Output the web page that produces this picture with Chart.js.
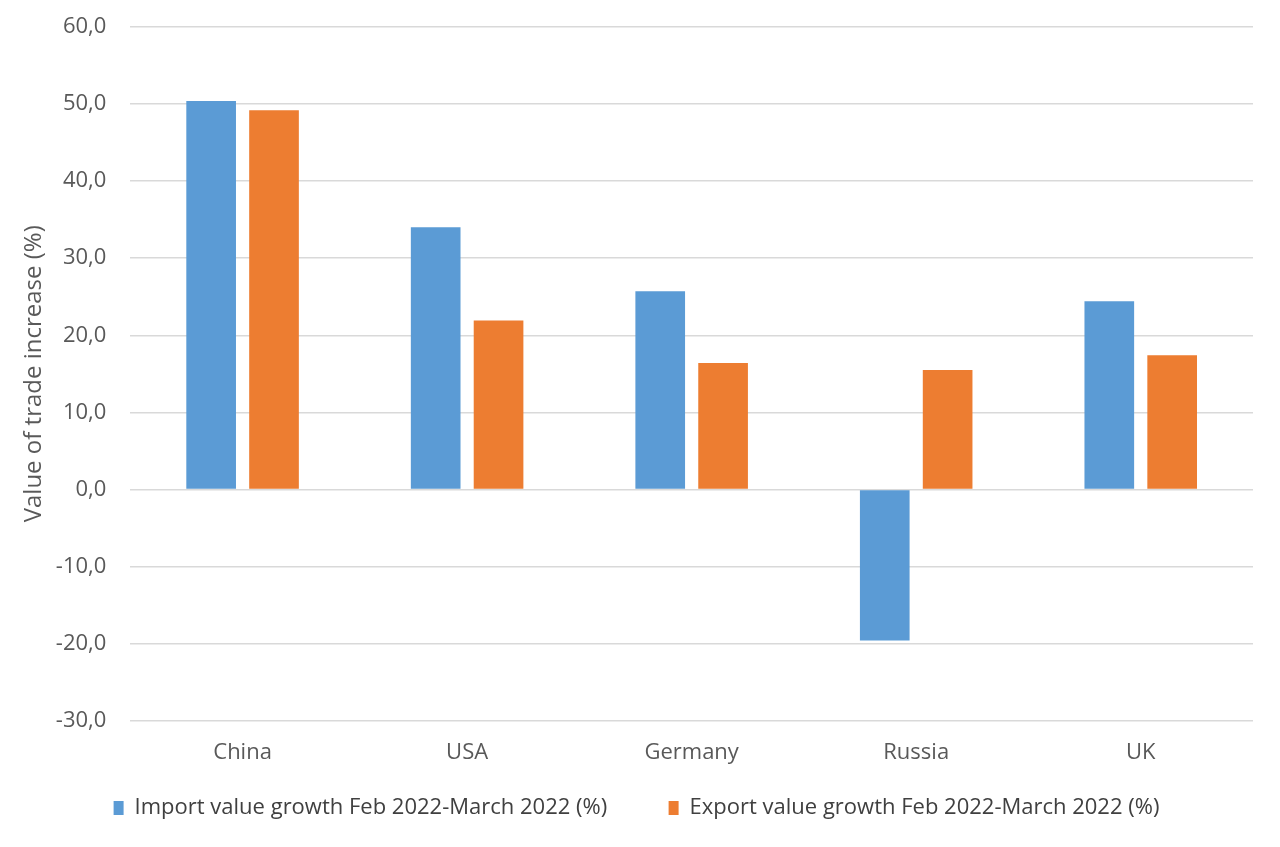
<!DOCTYPE html>
<html>
<head>
<meta charset="utf-8">
<script src="https://cdn.jsdelivr.net/npm/chart.js@4/dist/chart.umd.min.js"></script>
<style>
  html, body { margin: 0; padding: 0; background: #fff; }
  #wrap { width: 1280px; height: 847px; }
</style>
</head>
<body>
<div id="wrap"><canvas id="myChart"></canvas></div>
<script>
var countries = ['China', 'USA', 'Germany', 'Russia', 'UK'];
var importGrowth = [50.4, 34.0, 25.7, -19.6, 24.4];
var exportGrowth = [49.2, 21.9, 16.4, 15.5, 17.4];
var colors = ['#5b9bd5', '#ed7d31'];

Chart.defaults.font.family = '"Open Sans", "Noto Sans", sans-serif';
Chart.defaults.color = '#595959';

var ctx = document.getElementById('myChart').getContext('2d');
var myChart = new Chart(ctx, {
  type: 'bar',
  data: {
    labels: countries,
    datasets: [
      {
        label: 'Import value growth Feb 2022-March 2022 (%)',
        data: importGrowth,
        backgroundColor: colors[0]
      },
      {
        label: 'Export value growth Feb 2022-March 2022 (%)',
        data: exportGrowth,
        backgroundColor: colors[1]
      }
    ]
  },
  options: {
    responsive: true,
    maintainAspectRatio: false,
    animation: false,
    categoryPercentage: 0.56,
    barPercentage: 0.79,
    layout: { padding: { top: 0, right: 27, bottom: 18, left: 20 } },
    plugins: {
      tooltip: { enabled: false },
      legend: {
        position: 'bottom',
        labels: {
          boxWidth: 10,
          boxHeight: 14,
          padding: 10,
          font: { size: 22 },
          color: '#404040',
          // wide gap between the two items without the big vertical padding
          generateLabels: function (chart) {
            var items = Chart.defaults.plugins.legend.labels.generateLabels(chart);
            if (items.length) items[0].text += '         ';
            return items;
          }
        }
      }
    },
    scales: {
      x: {
        grid: { display: false, drawTicks: false },
        border: { display: false },
        ticks: { font: { size: 22 }, padding: 19 },
        afterFit: function (scale) { scale.height += 2; }
      },
      y: {
        min: -30,
        max: 60,
        grid: { color: '#d9d9d9', lineWidth: 1.5, drawTicks: false },
        border: { display: false },
        ticks: {
          stepSize: 10,
          padding: 24,
          font: { size: 22 },
          callback: function (v) { return v.toFixed(1).replace('.', ','); }
        },
        title: {
          display: true,
          text: 'Value of trade increase (%)',
          font: { size: 24 },
          color: '#595959',
          padding: { top: 0, bottom: 8 }
        },
        afterFit: function (scale) {
          scale.width -= 25;
          scale.paddingTop = 27;
        }
      }
    }
  }
});
</script>
</body>
</html>
